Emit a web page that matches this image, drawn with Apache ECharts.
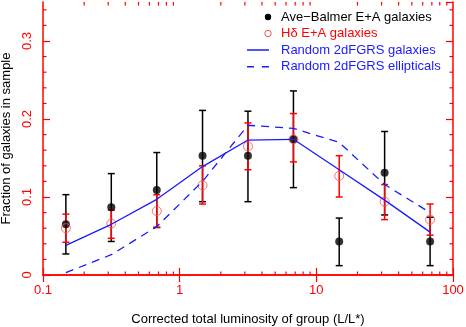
<!DOCTYPE html>
<html><head><meta charset="utf-8">
<script src="https://cdn.jsdelivr.net/npm/echarts@6/dist/echarts.min.js"></script>
<style>html,body{margin:0;padding:0;background:#fff}#c{width:466px;height:327px}</style>
</head><body><div id="c"></div>
<script>
// Data
const lum = [0.147, 0.316, 0.68, 1.47, 3.16, 6.8, 14.7, 31.6, 68];
const aveBalmer = [0.065, 0.087, 0.109, 0.153, 0.153, 0.174, 0.043, 0.131, 0.043];
const aveBalmerLo = [0.027, 0.043, 0.061, 0.094, 0.094, 0.112, 0.012, 0.077, 0.012];
const aveBalmerHi = [0.103, 0.130, 0.157, 0.211, 0.210, 0.236, 0.073, 0.184, 0.074];
const hDelta = [0.060, 0.066, 0.082, 0.115, 0.165, 0.174, 0.127, 0.094, 0.071];
const hDeltaLo = [0.042, 0.047, 0.061, 0.091, 0.135, 0.145, 0.100, 0.071, 0.051];
const hDeltaHi = [0.078, 0.083, 0.103, 0.140, 0.195, 0.207, 0.153, 0.116, 0.091];
const random2dF = [0.038, 0.065, 0.097, 0.139, 0.173, 0.174, 0.135, 0.096, 0.055];
const randomEll = [0.003, 0.026, 0.062, 0.120, 0.192, 0.188, 0.170, 0.116, 0.080];
const xMinorTicks = [0.2,0.3,0.4,0.5,0.6,0.7,0.8,0.9,2,3,4,5,6,7,8,9,20,30,40,50,60,70,80,90];
const yMinorTicks = [0.02,0.04,0.06,0.08,0.12,0.14,0.16,0.18,0.22,0.24,0.26,0.28,0.32,0.34];
const yTickLabels = {0: '0', 0.1: '0.1', 0.2: '0.2', 0.3: '0.3'};

const RED = '#ff0000', BLUE = '#1a1aff', FONT = 'Liberation Sans';
const chart = echarts.init(document.getElementById('c'), null, {renderer: 'canvas'});

function errData(lo, hi) { return lum.map((x, i) => [x, lo[i], hi[i]]); }
function errRender(color) {
  return function (params, api) {
    const top = api.coord([api.value(0), api.value(2)]);
    const bot = api.coord([api.value(0), api.value(1)]);
    const w = 3.5;
    const st = {stroke: color, lineWidth: 1.5};
    return {type: 'group', children: [
      {type: 'line', shape: {x1: top[0], y1: top[1], x2: bot[0], y2: bot[1]}, style: st},
      {type: 'line', shape: {x1: top[0]-w, y1: top[1], x2: top[0]+w, y2: top[1]}, style: st},
      {type: 'line', shape: {x1: bot[0]-w, y1: bot[1], x2: bot[0]+w, y2: bot[1]}, style: st}
    ]};
  };
}

const axisBase = {
  axisLine: {show: true, lineStyle: {color: RED, width: 1.5}},
  splitLine: {show: false}
};

chart.setOption({
  animation: false,
  grid: {left: 43, right: 13, top: 2, bottom: 52, containLabel: false, outerBoundsMode: 'none'},
  xAxis: [
    Object.assign({}, axisBase, {type: 'log', logBase: 10, min: 0.1, max: 100, position: 'bottom',
      axisTick: {inside: true, length: 7, lineStyle: {color: RED, width: 1.2}},
      axisLabel: {color: RED, fontFamily: FONT, fontSize: 13, margin: 9,
        alignMinLabel: 'center', alignMaxLabel: 'center',
        formatter: v => String(v)},
      name: 'Corrected total luminosity of group (L/L*)', nameLocation: 'middle', nameGap: 38,
      nameTextStyle: {color: '#000', fontFamily: FONT, fontSize: 13}}),
    Object.assign({}, axisBase, {type: 'log', logBase: 10, min: 0.1, max: 100, position: 'top',
      axisTick: {inside: true, length: 7, lineStyle: {color: RED, width: 1.2}},
      axisLabel: {show: false}})
  ],
  yAxis: [
    Object.assign({}, axisBase, {type: 'value', min: 0, max: 0.35, interval: 0.1, position: 'left',
      axisTick: {inside: true, length: 7, lineStyle: {color: RED, width: 1.2}},
      axisLabel: {color: RED, fontFamily: FONT, fontSize: 13, rotate: 90, margin: 9,
        showMaxLabel: false,
        formatter: v => { const k = Math.round(v * 10) / 10; return (Math.abs(v - k) < 1e-6 && yTickLabels[k] !== undefined) ? yTickLabels[k] : ''; }},
      name: 'Fraction of galaxies in sample', nameLocation: 'middle', nameGap: 28,
      nameTextStyle: {color: '#000', fontFamily: FONT, fontSize: 13}}),
    Object.assign({}, axisBase, {type: 'value', min: 0, max: 0.35, interval: 0.1, position: 'right',
      axisTick: {inside: true, length: 7, lineStyle: {color: RED, width: 1.2}},
      axisLabel: {show: false}})
  ],
  series: [
    {type: 'custom', name: 'xminor', data: xMinorTicks.map(v => [v]), silent: true, clip: false,
      renderItem: (p, api) => {
        const b = api.coord([api.value(0), 0]);
        const t = api.coord([api.value(0), 0.35]);
        const st = {stroke: RED, lineWidth: 1.2};
        return {type: 'group', children: [
          {type: 'line', shape: {x1: b[0], y1: b[1], x2: b[0], y2: b[1]-3.5}, style: st},
          {type: 'line', shape: {x1: t[0], y1: t[1], x2: t[0], y2: t[1]+3.5}, style: st}
        ]};
      }},
    {type: 'custom', name: 'yminor', data: yMinorTicks.map(v => [0.1, v]), silent: true, clip: false,
      renderItem: (p, api) => {
        const l = api.coord([0.1, api.value(1)]);
        const r = api.coord([100, api.value(1)]);
        const st = {stroke: RED, lineWidth: 1.2};
        return {type: 'group', children: [
          {type: 'line', shape: {x1: l[0], y1: l[1], x2: l[0]+3.5, y2: l[1]}, style: st},
          {type: 'line', shape: {x1: r[0], y1: r[1], x2: r[0]-3.5, y2: r[1]}, style: st}
        ]};
      }},
    {type: 'line', name: 'Random 2dFGRS galaxies', data: lum.map((x, i) => [x, random2dF[i]]),
      symbol: 'none', lineStyle: {color: BLUE, width: 1.3}},
    {type: 'line', name: 'Random 2dFGRS ellipticals', data: lum.map((x, i) => [x, randomEll[i]]),
      symbol: 'none', lineStyle: {color: BLUE, width: 1.3, type: [8, 6]}},
    {type: 'custom', name: 'aveErr', data: errData(aveBalmerLo, aveBalmerHi), renderItem: errRender('#000')},
    {type: 'custom', name: 'hdErr', data: errData(hDeltaLo, hDeltaHi), renderItem: errRender(RED)},
    {type: 'scatter', name: 'Ave−Balmer E+A galaxies', data: lum.map((x, i) => [x, aveBalmer[i]]),
      symbol: 'circle', symbolSize: 8, itemStyle: {color: '#000'}},
    {type: 'scatter', name: 'Hδ E+A galaxies', data: lum.map((x, i) => [x, hDelta[i]]),
      symbol: 'circle', symbolSize: 9, itemStyle: {color: 'rgba(0,0,0,0)', borderColor: '#ff4a4a', borderWidth: 1}}
  ],
  graphic: [
    {type: 'circle', shape: {cx: 268, cy: 17, r: 3.2}, style: {fill: '#000'}},
    {type: 'text', x: 281, y: 17, style: {text: 'Ave−Balmer E+A galaxies', fill: '#000', font: '13px "Liberation Sans"', verticalAlign: 'middle'}},
    {type: 'circle', shape: {cx: 268, cy: 33.5, r: 3.2}, style: {fill: 'none', stroke: '#ff4a4a', lineWidth: 1}},
    {type: 'text', x: 281, y: 33.5, style: {text: 'Hδ E+A galaxies', fill: RED, font: '13px "Liberation Sans"', verticalAlign: 'middle'}},
    {type: 'line', shape: {x1: 247, y1: 50, x2: 269, y2: 50}, style: {stroke: BLUE, lineWidth: 1.5}},
    {type: 'text', x: 281, y: 50, style: {text: 'Random 2dFGRS galaxies', fill: BLUE, font: '13px "Liberation Sans"', verticalAlign: 'middle'}},
    {type: 'line', shape: {x1: 247, y1: 66.7, x2: 269, y2: 66.7}, style: {stroke: BLUE, lineWidth: 1.5, lineDash: [7, 8]}},
    {type: 'text', x: 281, y: 66.7, style: {text: 'Random 2dFGRS ellipticals', fill: BLUE, font: '13px "Liberation Sans"', verticalAlign: 'middle'}}
  ]
});
</script></body></html>
